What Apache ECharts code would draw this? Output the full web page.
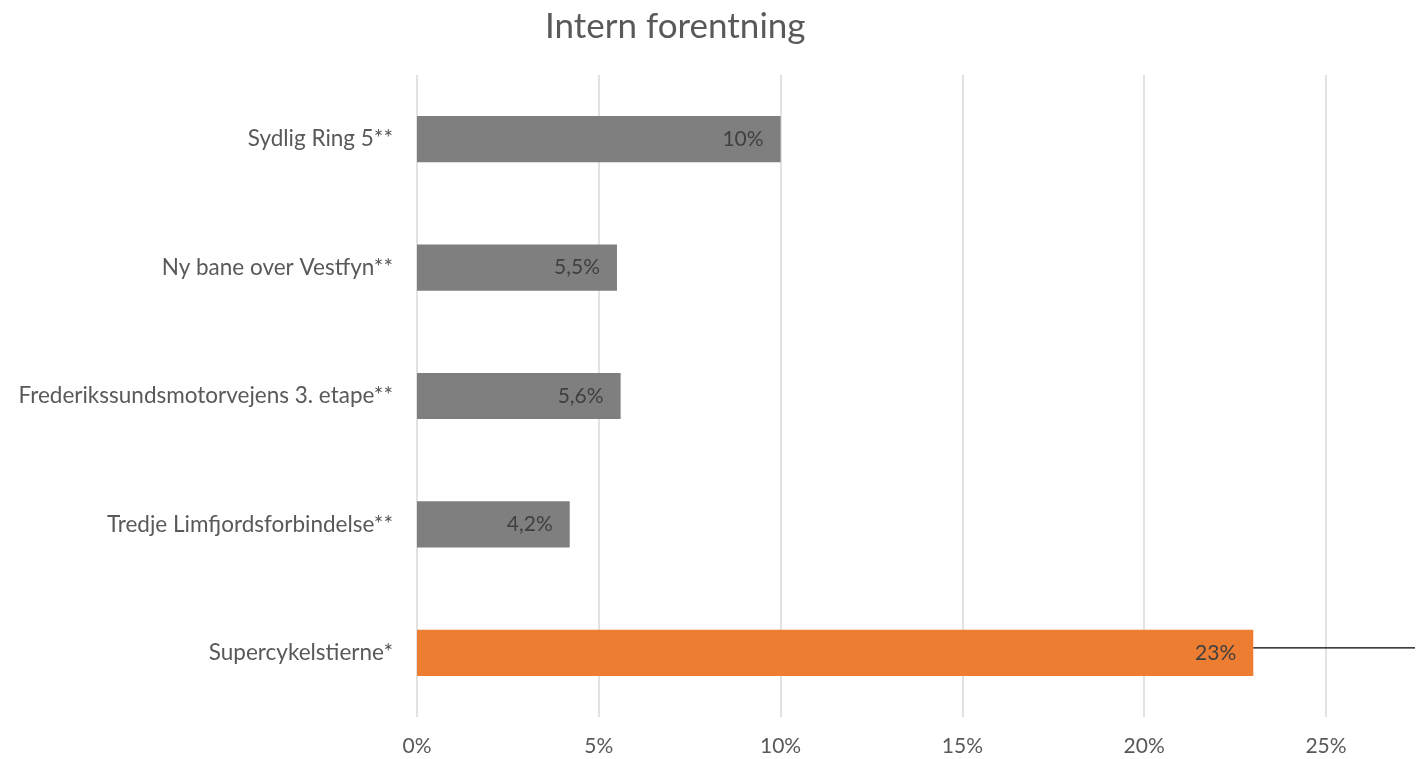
<!DOCTYPE html>
<html>
<head>
<meta charset="utf-8">
<style>
  html, body { margin: 0; padding: 0; background: #ffffff; }
  #chart { width: 1419px; height: 759px; }
</style>
<script src="https://cdn.jsdelivr.net/npm/echarts@6/dist/echarts.min.js"></script>
</head>
<body>
<div id="chart"></div>
<script>
// Projects, listed from top to bottom
const projects = [
  'Sydlig Ring 5**',
  'Ny bane over Vestfyn**',
  'Frederikssundsmotorvejens 3. etape**',
  'Tredje Limfjordsforbindelse**',
  'Supercykelstierne*'
];
// Share in percent
const shares = [10, 5.5, 5.6, 4.2, 23];
const highlighted = 'Supercykelstierne*';
const xTicks = [0, 5, 10, 15, 20, 25];

const FONT = 'Lato, "Open Sans", sans-serif';
const fmt = v => String(v).replace('.', ',') + '%';

const chart = echarts.init(document.getElementById('chart'), null, { renderer: 'canvas' });

const option = {
  backgroundColor: '#ffffff',
  animation: false,
  title: {
    text: 'Intern forentning',
    left: 540,
    top: 4,
    textStyle: { fontFamily: FONT, fontSize: 35, fontWeight: 'normal', color: '#595959' }
  },
  grid: { left: 417, right: 93, top: 75, bottom: 42, containLabel: false },
  xAxis: {
    type: 'value',
    min: xTicks[0],
    max: xTicks[xTicks.length - 1],
    interval: 5,
    axisLine: { show: false },
    axisTick: { show: false },
    splitLine: { lineStyle: { color: '#d9d9d9', width: 1.5 } },
    axisLabel: {
      formatter: v => v + '%',
      margin: 19,
      fontFamily: FONT, fontSize: 21, color: '#595959'
    }
  },
  yAxis: {
    type: 'category',
    inverse: true,
    data: projects,
    axisLine: { show: false },
    axisTick: { show: false },
    axisLabel: { margin: 24, fontFamily: FONT, fontSize: 22.5, color: '#595959' }
  },
  series: [{
    type: 'bar',
    data: shares.map((v, i) => ({
      value: v,
      itemStyle: { color: projects[i] === highlighted ? '#ed7d31' : '#7f7f7f' }
    })),
    barCategoryGap: '64%',
    label: {
      show: true,
      position: 'insideRight',
      distance: 17,
      formatter: p => fmt(p.value),
      fontFamily: FONT, fontSize: 21, color: '#404040'
    }
  }]
};

chart.setOption(option);

// Leader line from the end of the highlighted bar out to the right edge
const hi = projects.indexOf(highlighted);
const p = chart.convertToPixel({ gridIndex: 0 }, [shares[hi], projects[hi]]);
chart.setOption({
  graphic: [{
    type: 'line',
    shape: { x1: p[0], y1: p[1] - 5, x2: chart.getWidth() - 4, y2: p[1] - 5 },
    style: { stroke: '#000000', lineWidth: 1.3 },
    z: 10
  }]
});
</script>
</body>
</html>
